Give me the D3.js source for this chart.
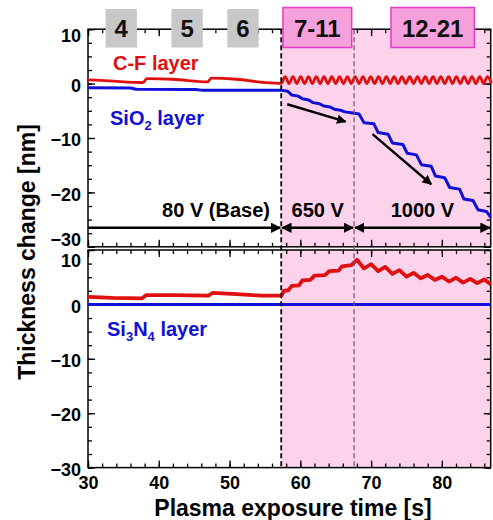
<!DOCTYPE html>
<html>
<head>
<meta charset="utf-8">
<script src="https://cdn.jsdelivr.net/npm/d3@7"></script>
<style>
  body { margin: 0; background: #fff; }
  text { font-family: "Liberation Sans", Arial, sans-serif; font-weight: bold; }
</style>
</head>
<body>
<div id="chart"></div>
<script>
// ---- data ----
const xMajor = [30, 40, 50, 60, 70, 80];
const yMajor = [10, 0, -10, -20, -30];
const stepLabels = ["4", "5", "6", "7-11", "12-21"];
const stepCenters = [34.7, 44.0, 51.9, 62.4, 78.7];
const phaseEdges = [30, 57.3, 67.6, 86.9];
const phaseLabels = ["80 V (Base)", "650 V", "1000 V"];

// top panel, C-F layer on SiO2
const cfTop = [[30,0.7],[33,0.5],[37.8,0.2],[38.3,0.9],[42,0.8],[46.9,0.3],[47.4,1.0],[51,0.8],[55,0.2],[57.3,0.05],
  [57.85,1.3],[58.4,0],[58.95,1.3],[59.5,0],[60.05,1.3],[60.6,0],[61.15,1.3],[61.7,0],[62.25,1.3],[62.8,0],
  [63.35,1.3],[63.9,0],[64.45,1.3],[65.0,0],[65.55,1.3],[66.1,0],[66.65,1.3],[67.2,0],[67.75,1.3],[68.3,0],
  [68.85,1.3],[69.4,0],[69.95,1.3],[70.5,0],[71.05,1.3],[71.6,0],[72.15,1.3],[72.7,0],[73.25,1.3],[73.8,0],
  [74.35,1.3],[74.9,0],[75.45,1.3],[76.0,0],[76.55,1.3],[77.1,0],[77.65,1.3],[78.2,0],[78.75,1.3],[79.3,0],
  [79.85,1.3],[80.4,0],[80.95,1.3],[81.5,0],[82.05,1.3],[82.6,0],[83.15,1.3],[83.7,0],[84.25,1.3],[84.8,0],
  [85.35,1.3],[85.9,0],[86.45,1.3],[87.0,0]];

// top panel, SiO2 layer
const sio2 = [[30,-0.75],[36,-0.8],[36.8,-1.05],[45.2,-1.1],[46,-1.2],[57.3,-1.2],
  [58.2,-1.4],[58.8,-2.1],[59.7,-2.3],[60.3,-2.8],[61.2,-3.0],[61.8,-3.5],[62.7,-3.7],[63.3,-4.1],
  [64.2,-4.3],[64.8,-4.7],[65.7,-4.9],[66.3,-5.2],[67.4,-5.4],[68.3,-5.6],[69.0,-7.2],[70.4,-7.4],
  [71.0,-9.0],[72.4,-9.3],[73.0,-10.9],[74.5,-11.2],[75.1,-12.8],[76.4,-13.1],[77.1,-14.9],[78.5,-15.2],
  [79.1,-17.0],[80.4,-17.3],[81.1,-19.1],[82.5,-19.4],[83.1,-21.2],[84.4,-21.5],[85.1,-23.2],[86.3,-23.5],[86.9,-24.6]];

// bottom panel, C-F layer on Si3N4
const cfBot = [[30,1.4],[33.5,1.2],[37.6,1.1],[38.2,1.7],[42,1.7],[47,1.6],[47.6,2.1],[51,1.9],[54.5,1.6],[57.3,1.6],
  [57.7,2.5],[58.3,2.6],[58.8,3.4],[59.8,3.5],[60.3,4.4],[61.4,4.5],[62.0,5.3],[63.5,5.4],[64.1,6.1],[65.4,6.2],
  [65.9,7.0],[67.2,7.2],[68.0,8.2],[69.0,6.6],[70.0,7.4],[71.0,6.1],[72.0,6.9],[73.0,5.6],[74.0,6.3],[75.0,5.1],
  [76.0,5.8],[77.0,4.8],[78.0,5.4],[79.0,4.5],[80.0,5.1],[81.0,4.2],[82.0,4.9],[83.0,4.0],[84.0,4.7],[85.0,3.9],
  [86.0,4.6],[86.9,3.7]];

// bottom panel, Si3N4 layer
const si3n4 = [[30,0],[86.9,0]];

// trend arrows in top panel [t0, v0, t1, v1]
const trendArrows = [[58.15,-3.8,66.4,-7.0],[70.2,-9.3,78.5,-18.5]];
const phaseArrowLevel = -26.5;

// ---- layout ----
const W = 493, H = 520;
const red = "#e01010", blue = "#1010d8", pinkBg = "#fcd3ea";

const svg = d3.select("#chart").append("svg")
  .attr("width", W).attr("height", H);

const defs = svg.append("defs");
defs.append("marker").attr("id", "head")
  .attr("viewBox", "0 0 10 10").attr("refX", 9).attr("refY", 5)
  .attr("markerWidth", 4).attr("markerHeight", 4)
  .attr("orient", "auto-start-reverse").attr("markerUnits", "strokeWidth")
  .append("path").attr("d", "M0,0L10,5L0,10Z").attr("fill", "#000");

const x = d3.scaleLinear().domain([30, 86.9]).range([88, 490.7]);
const yTop = d3.scaleLinear().domain([-30, 10]).range([246.8, 29.2]);
const yBot = d3.scaleLinear().domain([-30, 10]).range([467.6, 250]);

const xMinor = d3.range(30, 87, 2);
const yMinor = d3.range(-30, 10.1, 2.5);

function panel(y, showX, labelShift) {
  const g = svg.append("g");
  const [y0, y1] = y.range();
  // pink shading of high-bias region
  g.append("rect")
    .attr("x", x(phaseEdges[1])).attr("y", y1)
    .attr("width", x.range()[1] - x(phaseEdges[1])).attr("height", y0 - y1)
    .attr("fill", pinkBg);

  // minor + major ticks on all four sides, pointing inward
  const addAxis = (axis, tx, ty) => {
    const a = g.append("g").attr("transform", `translate(${tx},${ty})`).call(axis);
    a.select(".domain").remove();
    a.selectAll("line").attr("stroke", "#000").attr("stroke-width", 1.3);
    return a;
  };
  addAxis(d3.axisLeft(y).tickValues(yMinor).tickSize(-4).tickFormat(""), x.range()[0], 0);
  addAxis(d3.axisRight(y).tickValues(yMinor).tickSize(-4).tickFormat(""), x.range()[1], 0);
  addAxis(d3.axisRight(y).tickValues(yMajor).tickSize(-7).tickFormat(""), x.range()[1], 0);
  const yl = addAxis(d3.axisLeft(y).tickValues(yMajor).tickSize(-7).tickPadding(7), x.range()[0], 0);
  yl.selectAll("text")
    .attr("font-size", 18).attr("fill", "#000")
    .attr("y", d => labelShift[d] || 2);

  addAxis(d3.axisTop(x).tickValues(xMinor).tickSize(-4).tickFormat(""), 0, y1);
  addAxis(d3.axisTop(x).tickValues(xMajor).tickSize(-7).tickFormat(""), 0, y1);
  addAxis(d3.axisBottom(x).tickValues(xMinor).tickSize(-4).tickFormat(""), 0, y0);
  const xa = addAxis(d3.axisBottom(x).tickValues(xMajor).tickSize(-7).tickPadding(9)
    .tickFormat(showX ? d3.format("d") : ""), 0, y0);
  xa.selectAll("text").attr("font-size", 18).attr("fill", "#000");

  g.append("rect")
    .attr("x", x.range()[0]).attr("y", y1)
    .attr("width", x.range()[1] - x.range()[0]).attr("height", y0 - y1)
    .attr("fill", "none").attr("stroke", "#000").attr("stroke-width", 1.5);
  return g;
}

const gTop = panel(yTop, false, {10: 7, "-30": -7});
const gBot = panel(yBot, true, {10: 11, 0: 2});

// phase boundaries
svg.append("line")
  .attr("x1", x(phaseEdges[1])).attr("x2", x(phaseEdges[1]))
  .attr("y1", yTop.range()[1]).attr("y2", yBot.range()[0])
  .attr("stroke", "#000").attr("stroke-width", 1.8).attr("stroke-dasharray", "5,3");
svg.append("line")
  .attr("x1", x(phaseEdges[2])).attr("x2", x(phaseEdges[2]))
  .attr("y1", yTop.range()[1]).attr("y2", yBot.range()[0])
  .attr("stroke", "#7a5a78").attr("stroke-width", 1.3).attr("stroke-dasharray", "5,3");

// data lines
const lineTop = d3.line().x(d => x(d[0])).y(d => yTop(d[1]));
const lineBot = d3.line().x(d => x(d[0])).y(d => yBot(d[1]));

gTop.append("path").datum(cfTop)
  .attr("d", d3.line().x(d => x(d[0])).y(d => yTop(d[1])).curve(d3.curveMonotoneX))
  .attr("fill", "none").attr("stroke", red).attr("stroke-width", 2.8);
gTop.append("path").datum(sio2)
  .attr("d", lineTop)
  .attr("fill", "none").attr("stroke", blue).attr("stroke-width", 3).attr("stroke-linejoin", "round");
gBot.append("path").datum(si3n4)
  .attr("d", lineBot)
  .attr("fill", "none").attr("stroke", blue).attr("stroke-width", 3);
gBot.append("path").datum(cfBot)
  .attr("d", lineBot)
  .attr("fill", "none").attr("stroke", red).attr("stroke-width", 3.8).attr("stroke-linejoin", "round");

// phase arrows along the bottom of top panel
phaseLabels.forEach((lab, i) => {
  const a = x(phaseEdges[i]) + (i === 0 ? 0 : 1);
  const b = x(phaseEdges[i + 1]) - 1;
  const ln = gTop.append("line")
    .attr("x1", a).attr("x2", b)
    .attr("y1", yTop(phaseArrowLevel)).attr("y2", yTop(phaseArrowLevel))
    .attr("stroke", "#000").attr("stroke-width", 2.6)
    .attr("marker-end", "url(#head)");
  if (i > 0) ln.attr("marker-start", "url(#head)");
  const cx = i === 0 ? 216 : (x(phaseEdges[i]) + x(phaseEdges[i + 1])) / 2;
  gTop.append("text")
    .attr("x", cx).attr("y", yTop(phaseArrowLevel) - 11)
    .attr("text-anchor", "middle").attr("font-size", 20)
    .text(lab);
});

// trend arrows
gTop.selectAll(".trend").data(trendArrows).join("line")
  .attr("x1", d => x(d[0])).attr("y1", d => yTop(d[1]))
  .attr("x2", d => x(d[2])).attr("y2", d => yTop(d[3]))
  .attr("stroke", "#000").attr("stroke-width", 2.4)
  .attr("marker-end", "url(#head)");

// layer labels
gTop.append("text").attr("x", 113).attr("y", 70).attr("font-size", 20).attr("fill", red).text("C-F layer");
const t2 = gTop.append("text").attr("x", 110).attr("y", 125).attr("font-size", 20).attr("fill", blue);
t2.append("tspan").text("SiO");
t2.append("tspan").attr("font-size", 13).attr("dy", 5).text("2");
t2.append("tspan").attr("dy", -5).text(" layer");
const t3 = gBot.append("text").attr("x", 107).attr("y", 336).attr("font-size", 20).attr("fill", blue);
t3.append("tspan").text("Si");
t3.append("tspan").attr("font-size", 13).attr("dy", 5).text("3");
t3.append("tspan").attr("dy", -5).text("N");
t3.append("tspan").attr("font-size", 13).attr("dy", 5).text("4");
t3.append("tspan").attr("dy", -5).text(" layer");

// step number boxes above the plot
stepLabels.forEach((lab, i) => {
  const hot = i >= 3;
  const g = svg.append("g");
  const r = g.append("rect");
  const t = g.append("text")
    .attr("x", x(stepCenters[i])).attr("y", 37)
    .attr("text-anchor", "middle").attr("font-size", 24).attr("fill", "#111")
    .text(lab);
  const w = t.node().getComputedTextLength() + (hot ? 22 : 18);
  r.attr("x", x(stepCenters[i]) - w / 2).attr("width", w)
    .attr("y", hot ? 7.5 : 9).attr("height", hot ? 40 : 38.5)
    .attr("fill", hot ? "#f5a0da" : "#c8c8c8")
    .attr("stroke", hot ? "#e23cc8" : "none").attr("stroke-width", 1.5);
});

// axis titles
svg.append("text")
  .attr("x", 293).attr("y", 516).attr("text-anchor", "middle")
  .attr("font-size", 23).text("Plasma exposure time [s]");
svg.append("text")
  .attr("transform", "translate(35,252) rotate(-90)")
  .attr("text-anchor", "middle").attr("font-size", 23)
  .text("Thickness change [nm]");
</script>
</body>
</html>
